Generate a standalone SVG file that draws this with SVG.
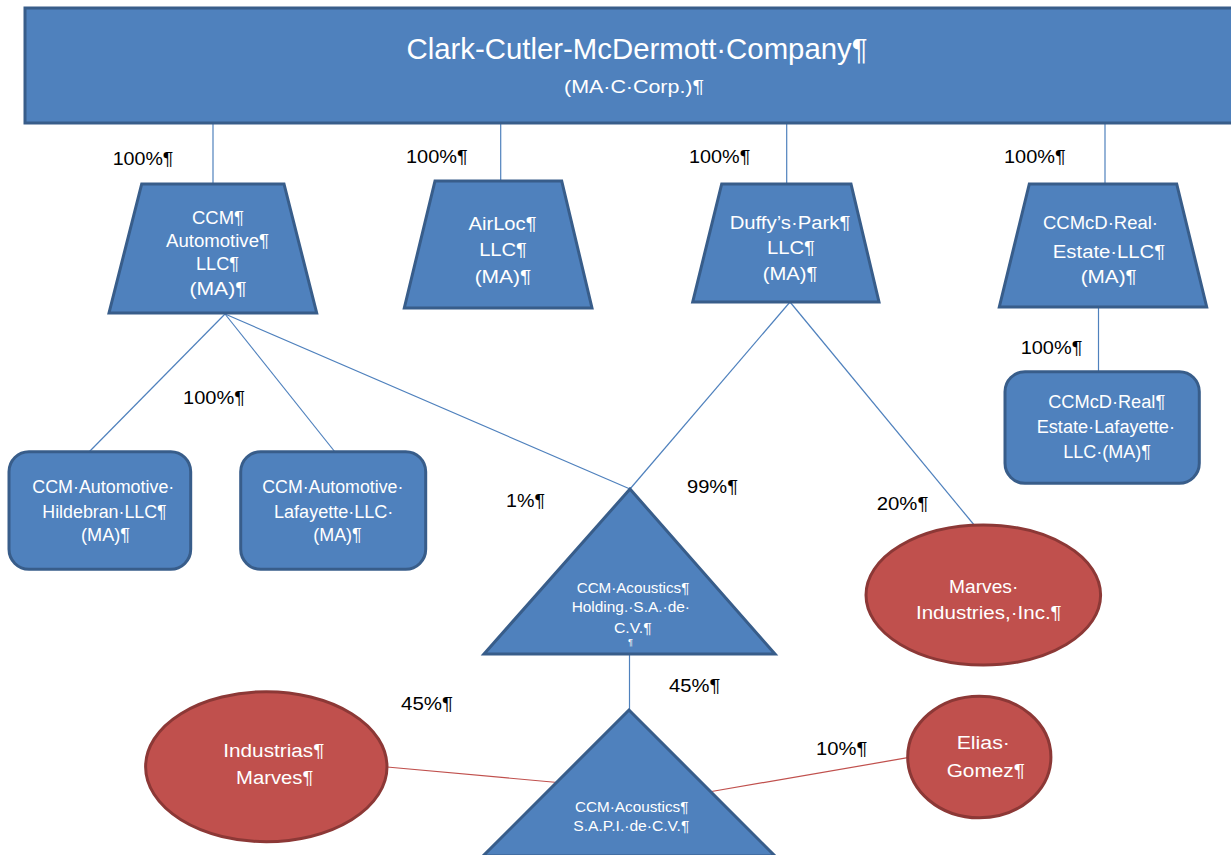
<svg xmlns="http://www.w3.org/2000/svg" width="1231" height="855" viewBox="0 0 1231 855">
<style>
.node{fill:#4f81bd;stroke:#385d8a;stroke-width:3;stroke-linejoin:miter}
.red{fill:#c0504d;stroke:#8c3836;stroke-width:3}
.bl{stroke:#4f81bd;stroke-width:1.2;fill:none}
.rl{stroke:#c0504d;stroke-width:1.2;fill:none}
text{font-family:"Liberation Sans",Arial,sans-serif}
.w{fill:#ffffff;text-anchor:middle;font-size:18px}
.s{fill:#ffffff;text-anchor:middle;font-size:14px}
.lab{fill:#000000;font-size:18px}
</style>
<rect width="1231" height="855" fill="#ffffff"/>
<g id="connectors">
<line class="bl" x1="213" y1="123" x2="213" y2="184"/>
<line class="bl" x1="500.7" y1="123" x2="500.7" y2="181"/>
<line class="bl" x1="786.7" y1="123" x2="786.7" y2="184"/>
<line class="bl" x1="1105" y1="123" x2="1105" y2="184"/>
<line class="bl" x1="1098.5" y1="307" x2="1098.5" y2="372"/>
<line class="bl" x1="225" y1="314" x2="89" y2="452"/>
<line class="bl" x1="225" y1="314" x2="335" y2="452"/>
<line class="bl" x1="225" y1="314" x2="630" y2="489"/>
<line class="bl" x1="790" y1="302" x2="630" y2="489"/>
<line class="bl" x1="790" y1="302" x2="975" y2="526"/>
<line class="bl" x1="629.5" y1="654" x2="629.5" y2="710"/>
<line class="rl" x1="387" y1="767" x2="557.5" y2="782.5"/>
<line class="rl" x1="711.5" y1="791.5" x2="907.7" y2="757.7"/>
</g>
<g id="labels">
<text class="lab" x="112.7" y="165" textLength="60.7" lengthAdjust="spacingAndGlyphs">100%¶</text>
<text class="lab" x="406" y="163" textLength="61.7" lengthAdjust="spacingAndGlyphs">100%¶</text>
<text class="lab" x="689" y="163" textLength="61.3" lengthAdjust="spacingAndGlyphs">100%¶</text>
<text class="lab" x="1004" y="163" textLength="61.7" lengthAdjust="spacingAndGlyphs">100%¶</text>
<text class="lab" x="1020.7" y="354" textLength="61.7" lengthAdjust="spacingAndGlyphs">100%¶</text>
<text class="lab" x="183" y="404" textLength="62" lengthAdjust="spacingAndGlyphs">100%¶</text>
<text class="lab" x="506" y="507" textLength="39" lengthAdjust="spacingAndGlyphs">1%¶</text>
<text class="lab" x="687" y="492.7" textLength="51" lengthAdjust="spacingAndGlyphs">99%¶</text>
<text class="lab" x="876.7" y="510" textLength="51.7" lengthAdjust="spacingAndGlyphs">20%¶</text>
<text class="lab" x="401" y="710" textLength="52" lengthAdjust="spacingAndGlyphs">45%¶</text>
<text class="lab" x="669" y="691.7" textLength="51.3" lengthAdjust="spacingAndGlyphs">45%¶</text>
<text class="lab" x="816" y="755" textLength="51.3" lengthAdjust="spacingAndGlyphs">10%¶</text>
</g>
<g id="parent">
<rect class="node" x="25" y="8" width="1220" height="115"/>
<text fill="#ffffff" text-anchor="middle" font-size="29" x="637" y="59.3" textLength="461" lengthAdjust="spacingAndGlyphs">Clark-Cutler-McDermott·Company¶</text>
<text fill="#ffffff" text-anchor="middle" font-size="19" x="634" y="93" textLength="140" lengthAdjust="spacingAndGlyphs">(MA·C·Corp.)¶</text>
</g>
<g id="ccm-automotive">
<polygon class="node" points="141.7,184 284,184 316.7,313 109,313"/>
<text class="w" x="218" y="224" textLength="52" lengthAdjust="spacingAndGlyphs">CCM¶</text>
<text class="w" x="217.5" y="247" textLength="103" lengthAdjust="spacingAndGlyphs">Automotive¶</text>
<text class="w" x="217.5" y="270" textLength="43" lengthAdjust="spacingAndGlyphs">LLC¶</text>
<text class="w" x="218" y="295" textLength="57" lengthAdjust="spacingAndGlyphs">(MA)¶</text>
</g>
<g id="airloc">
<polygon class="node" points="435,181 561.7,181 592,308 404.3,308"/>
<text class="w" x="502.5" y="230" textLength="68" lengthAdjust="spacingAndGlyphs">AirLoc¶</text>
<text class="w" x="503" y="255.7" textLength="47.7" lengthAdjust="spacingAndGlyphs">LLC¶</text>
<text class="w" x="503" y="282.7" textLength="56.7" lengthAdjust="spacingAndGlyphs">(MA)¶</text>
</g>
<g id="duffys-park">
<polygon class="node" points="721.7,184 851,184 879,302 692.7,302"/>
<text class="w" x="790" y="229" textLength="120.7" lengthAdjust="spacingAndGlyphs">Duffy’s·Park¶</text>
<text class="w" x="791" y="254" textLength="48" lengthAdjust="spacingAndGlyphs">LLC¶</text>
<text class="w" x="790" y="280" textLength="54.6" lengthAdjust="spacingAndGlyphs">(MA)¶</text>
</g>
<g id="ccmcd-real-estate">
<polygon class="node" points="1029.3,184 1176.7,184 1206.7,307 999.3,307"/>
<text class="w" x="1100.5" y="229" textLength="115" lengthAdjust="spacingAndGlyphs">CCMcD·Real·</text>
<text class="w" x="1109" y="257.7" textLength="112.3" lengthAdjust="spacingAndGlyphs">Estate·LLC¶</text>
<text class="w" x="1108.7" y="283.3" textLength="56" lengthAdjust="spacingAndGlyphs">(MA)¶</text>
</g>
<g id="ccmcd-real-estate-lafayette">
<rect class="node" x="1005" y="371.7" width="194.3" height="111.6" rx="20" ry="20"/>
<text class="w" x="1106.7" y="408.3" textLength="117" lengthAdjust="spacingAndGlyphs">CCMcD·Real¶</text>
<text class="w" x="1105.8" y="433.3" textLength="138.3" lengthAdjust="spacingAndGlyphs">Estate·Lafayette·</text>
<text class="w" x="1107" y="458.3" textLength="87.7" lengthAdjust="spacingAndGlyphs">LLC·(MA)¶</text>
</g>
<g id="ccm-automotive-hildebran">
<rect class="node" x="9" y="451.7" width="181.7" height="117.6" rx="20" ry="20"/>
<text class="w" x="103.3" y="493.3" textLength="142" lengthAdjust="spacingAndGlyphs">CCM·Automotive·</text>
<text class="w" x="104.5" y="517.7" textLength="124.4" lengthAdjust="spacingAndGlyphs">Hildebran·LLC¶</text>
<text class="w" x="105.5" y="541" textLength="49" lengthAdjust="spacingAndGlyphs">(MA)¶</text>
</g>
<g id="ccm-automotive-lafayette">
<rect class="node" x="240.7" y="451.7" width="185" height="117.6" rx="20" ry="20"/>
<text class="w" x="332.8" y="493.3" textLength="141" lengthAdjust="spacingAndGlyphs">CCM·Automotive·</text>
<text class="w" x="333.7" y="517.7" textLength="119.3" lengthAdjust="spacingAndGlyphs">Lafayette·LLC·</text>
<text class="w" x="337.5" y="541" textLength="48.4" lengthAdjust="spacingAndGlyphs">(MA)¶</text>
</g>
<g id="ccm-acoustics-holding">
<polygon class="node" points="630,489 775,654 484,654"/>
<text class="s" x="633" y="593.3" textLength="112.6" lengthAdjust="spacingAndGlyphs">CCM·Acoustics¶</text>
<text class="s" x="630.8" y="611.7" textLength="118.3" lengthAdjust="spacingAndGlyphs">Holding.·S.A.·de·</text>
<text class="s" x="632.8" y="633.3" textLength="37.7" lengthAdjust="spacingAndGlyphs">C.V.¶</text>
<text fill="#ffffff" text-anchor="middle" font-size="9" x="630.5" y="645">¶</text>
</g>
<g id="marves-industries-inc">
<ellipse class="red" cx="983.3" cy="595" rx="117.3" ry="70"/>
<text class="w" x="983.7" y="592.7" textLength="69.3" lengthAdjust="spacingAndGlyphs">Marves·</text>
<text class="w" x="988.8" y="619" textLength="145.7" lengthAdjust="spacingAndGlyphs">Industries,·Inc.¶</text>
</g>
<g id="ccm-acoustics-sapi">
<polygon class="node" points="629,710 483,856 775,856"/>
<text class="s" x="631.7" y="811.7" textLength="113.3" lengthAdjust="spacingAndGlyphs">CCM·Acoustics¶</text>
<text class="s" x="631.3" y="831" textLength="116" lengthAdjust="spacingAndGlyphs">S.A.P.I.·de·C.V.¶</text>
</g>
<g id="industrias-marves">
<ellipse class="red" cx="266.3" cy="766.7" rx="120.7" ry="75"/>
<text class="w" x="273.8" y="757.3" textLength="101" lengthAdjust="spacingAndGlyphs">Industrias¶</text>
<text class="w" x="274.7" y="784" textLength="77.3" lengthAdjust="spacingAndGlyphs">Marves¶</text>
</g>
<g id="elias-gomez">
<ellipse class="red" cx="979.3" cy="757" rx="71.6" ry="60.8"/>
<text class="w" x="983.3" y="749.3" textLength="53.3" lengthAdjust="spacingAndGlyphs">Elias·</text>
<text class="w" x="985.8" y="777.3" textLength="78.3" lengthAdjust="spacingAndGlyphs">Gomez¶</text>
</g>
</svg>
